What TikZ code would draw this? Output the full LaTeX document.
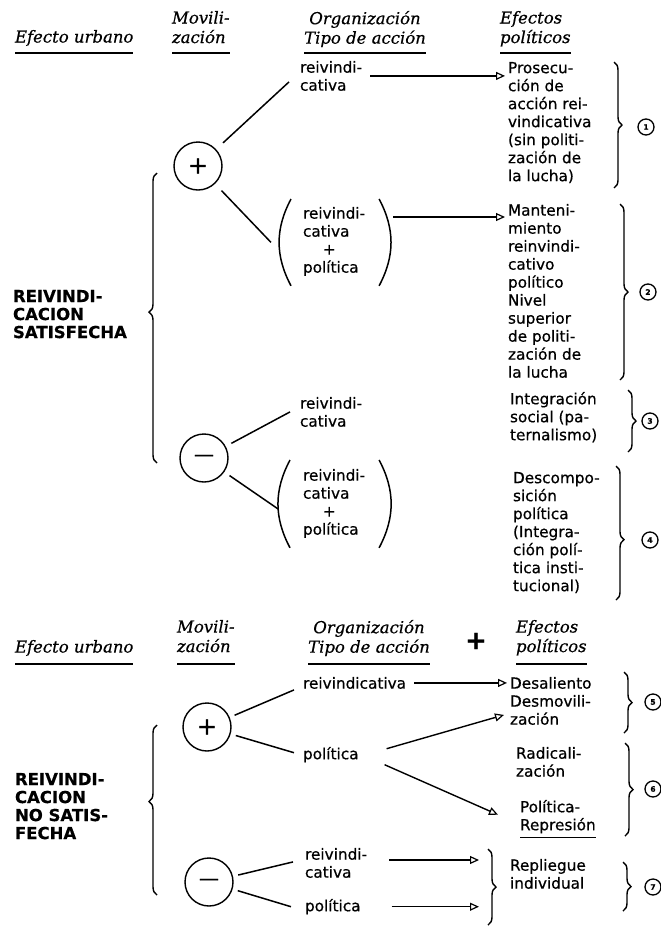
\documentclass[tikz,border=0pt]{standalone}
\usepackage{fontspec}
\setmainfont{DejaVu Sans}[FakeBold=0.6]
\newfontfamily\hdrfont{DejaVu Serif}[FakeBold=0.5]
\usetikzlibrary{arrows.meta,decorations.pathreplacing,calc}
\begin{document}
\begin{tikzpicture}[x=1pt,y=-1pt,
  every node/.style={inner sep=0pt, outer sep=0pt},
  txt/.style={anchor=north west, align=left, font=\fontsize{15.3}{18}\selectfont},
  hdr/.style={anchor=north west, align=left, font=\hdrfont\itshape\fontsize{16.5}{19.5}\selectfont},
  caps/.style={anchor=north west, align=left, font=\bfseries\fontsize{16.5}{18}\selectfont},
  sign/.style={circle, draw, line width=1.4pt, minimum size=48pt, font=\fontsize{24}{24}\selectfont},
  num/.style={circle, draw, line width=1.3pt, minimum size=16pt, font=\bfseries\fontsize{7.5}{7.5}\selectfont},
  link/.style={line width=1.5pt},
  arr/.style={line width=1.4pt, -{Triangle[open,length=9pt,width=8pt,line width=1.2pt]}},
  rbr/.style={decorate, decoration={brace, amplitude=8pt, aspect=#1}, line width=1.4pt},
  rbr/.default=0.5,
  uline/.style={line width=1.3pt},
  paren/.style={line width=1.5pt}
]
\useasboundingbox (0,0) rectangle (661,927);

% ---------------- top headers
\coordinate (ul1) at (0,53);
\node[hdr] (hEU1) at (15,30) {Efecto urbano};
\node[hdr] (hMo1) at (172,11) {Movili-\\zación};
\node[hdr, anchor=north, align=center] (hOr1) at (365,11) {Organización\\Tipo de acción};
\node[hdr] (hEf1) at (500,11) {Efectos\\políticos};
\foreach \n in {hEU1,hMo1,hOr1,hEf1}{
  \draw[uline] (\n.west |- ul1) -- (\n.east |- ul1);}

% ---------------- top section
\node[caps] (sat) at (13,290) {REIVINDI-\\CACION\\SATISFECHA};
\node[sign] (cp1) at (198,166) {+};
\node[sign] (cm1) at (204,458) {\fontsize{20}{20}\selectfont —};
\coordinate (bt1) at (157,173);
\coordinate (bb1) at (157,463);
\draw[rbr=0.52] (bb1) -- (bt1);

\node[txt] (t1) at (300,61) {reivindi-\\cativa};
\node[txt] (t2) at (303,207) {reivindi-\\cativa\\\hspace*{1.3em}+\\política};
\coordinate (p1a) at ($(t2.north west)+(-12,-8)$);
\coordinate (p1b) at ($(t2.south west)+(-12,10)$);
\coordinate (p1c) at ($(t2.north east)+(14,-8)$);
\coordinate (p1d) at ($(t2.south east)+(14,10)$);
\draw[paren] (p1a) to[bend right=28] (p1b);
\draw[paren] (p1c) to[bend left=28] (p1d);

\node[txt] (t3) at (300,397) {reivindi-\\cativa};
\node[txt] (t4) at (303,469) {reivindi-\\cativa\\\hspace*{1.3em}+\\política};
\coordinate (p2a) at ($(t4.north west)+(-13,-9)$);
\coordinate (p2b) at ($(t4.south west)+(-13,10)$);
\coordinate (p2c) at ($(t4.north east)+(14,-9)$);
\coordinate (p2d) at ($(t4.south east)+(14,10)$);
\draw[paren] (p2a) to[bend right=28] (p2b);
\draw[paren] (p2c) to[bend left=28] (p2d);

\coordinate (l1e) at ($(t1.west)+(-11,6)$);
\coordinate (l2e) at ($(p1a)!0.5!(p1b)+(-20,0)$);
\coordinate (l3e) at ($(t3.west)+(-10,0)$);
\coordinate (l4e) at ($(p2a)!0.5!(p2b)+(-12,5)$);
\draw[link, shorten <=10pt] (cp1) -- (l1e);
\draw[link, shorten <=10pt] (cp1) -- (l2e);
\draw[link, shorten <=7pt] (cm1) -- (l3e);
\draw[link, shorten <=7pt] (cm1) -- (l4e);

\node[txt] (e1) at (508,62) {Prosecu-\\ción de\\acción rei-\\vindicativa\\(sin politi-\\zación de\\la lucha)};
\node[txt] (e2) at (508,204) {Manteni-\\miento\\reinvindi-\\cativo\\político\\Nivel\\superior\\de politi-\\zación de\\la lucha};
\node[txt] (e3) at (510,392) {Integración\\social (pa-\\ternalismo)};
\node[txt] (e4) at (513,472) {Descompo-\\sición\\política\\(Integra-\\ción polí-\\tica insti-\\tucional)};

\coordinate (a1s) at ($(t1.east)+(8,0)$);
\draw[arr, shorten >=3pt] (a1s) -- (a1s -| e1.west);
\coordinate (a2s) at ($(p1c)+(14,18)$);
\draw[arr, shorten >=3pt] (a2s) -- (a2s -| e2.west);

\draw[rbr] (614,62) -- (614,188);
\node[num] (n1) at (646,127) {1};
\draw[rbr] (620,204) -- (620,380);
\node[num] (n2) at (648,292) {2};
\draw[rbr] (628,390) -- (628,452);
\node[num] (n3) at (650,421) {3};
\draw[rbr=0.55] (616,466) -- (616,600);
\node[num] (n4) at (650,540) {4};

% ---------------- bottom headers
\coordinate (ul2) at (0,664);
\node[hdr] (hEU2) at (15,640) {Efecto urbano};
\node[hdr] (hMo2) at (177,620) {Movili-\\zación};
\node[hdr, anchor=north, align=center] (hOr2) at (369,620) {Organización\\Tipo de acción};
\node[font=\bfseries\fontsize{26}{26}\selectfont] (plus) at (476,641) {+};
\node[hdr] (hEf2) at (516,620) {Efectos\\políticos};
\foreach \n in {hEU2,hMo2,hOr2,hEf2}{
  \draw[uline] (\n.west |- ul2) -- (\n.east |- ul2);}

% ---------------- bottom section
\node[caps] (nsat) at (15,773) {REIVINDI-\\CACION\\NO SATIS-\\FECHA};
\node[sign] (cp2) at (207,727) {+};
\node[sign] (cm2) at (209,882) {\fontsize{20}{20}\selectfont —};
\coordinate (bt2) at (157,725);
\coordinate (bb2) at (157,895);
\draw[rbr=0.55] (bb2) -- (bt2);

\node[txt] (u1) at (303,677) {reivindicativa};
\node[txt] (u2) at (303,747) {política};
\node[txt] (u3) at (305,848) {reivindi-\\cativa};
\node[txt] (u4) at (305,899) {política};

\coordinate (m1e) at ($(u1.west)+(-9,7)$);
\coordinate (m2e) at ($(u2.west)+(-9,-2)$);
\coordinate (m3e) at ($(u3.west)+(-12,-1)$);
\coordinate (m4e) at ($(u4.west)+(-14,0)$);
\draw[link, shorten <=6pt] (cp2) -- (m1e);
\draw[link, shorten <=6pt] (cp2) -- (m2e);
\draw[link, shorten <=6pt] (cm2) -- (m3e);
\draw[link, shorten <=6pt] (cm2) -- (m4e);

\node[txt] (f1) at (510,677) {Desaliento\\Desmovili-\\zación};
\node[txt] (f2) at (516,747) {Radicali-\\zación};
\node[txt] (f3) at (520,800) {Política-\\Represión};
\draw[uline] ([yshift=-4pt]f3.south west) -- ([yshift=-4pt]f3.south east);
\node[txt] (f4) at (510,859) {Repliegue\\individual};

\coordinate (b1s) at ($(u1.east)+(8,0)$);
\draw[arr, shorten >=3pt] (b1s) -- (b1s -| f1.west);
\coordinate (b2s) at ($(u2.east)+(28,-6)$);
\coordinate (b2e) at ($(f1.west)+(-6,14)$);
\draw[arr] (b2s) -- (b2e);
\coordinate (b3s) at ($(u2.east)+(26,10)$);
\coordinate (b3e) at ($(f3.west)+(-22,-2)$);
\draw[arr] (b3s) -- (b3e);
\coordinate (b4s) at ($(u3.north east)+(22,12)$);
\coordinate (bj) at (488,887);
\draw[arr, shorten >=9pt] (b4s) -- (b4s -| bj);
\coordinate (b5s) at ($(u4.east)+(31,0)$);
\draw[arr, shorten >=9pt] (b5s) -- (b5s -| bj);

\draw[rbr] (488,849) -- (488,925);
\draw[rbr] (624,672) -- (624,733);
\node[num] (n5) at (653,702) {5};
\draw[rbr] (625,743) -- (625,836);
\node[num] (n6) at (653,789) {6};
\draw[rbr] (623,862) -- (623,911);
\node[num] (n7) at (653,887) {7};
\end{tikzpicture}
\end{document}
